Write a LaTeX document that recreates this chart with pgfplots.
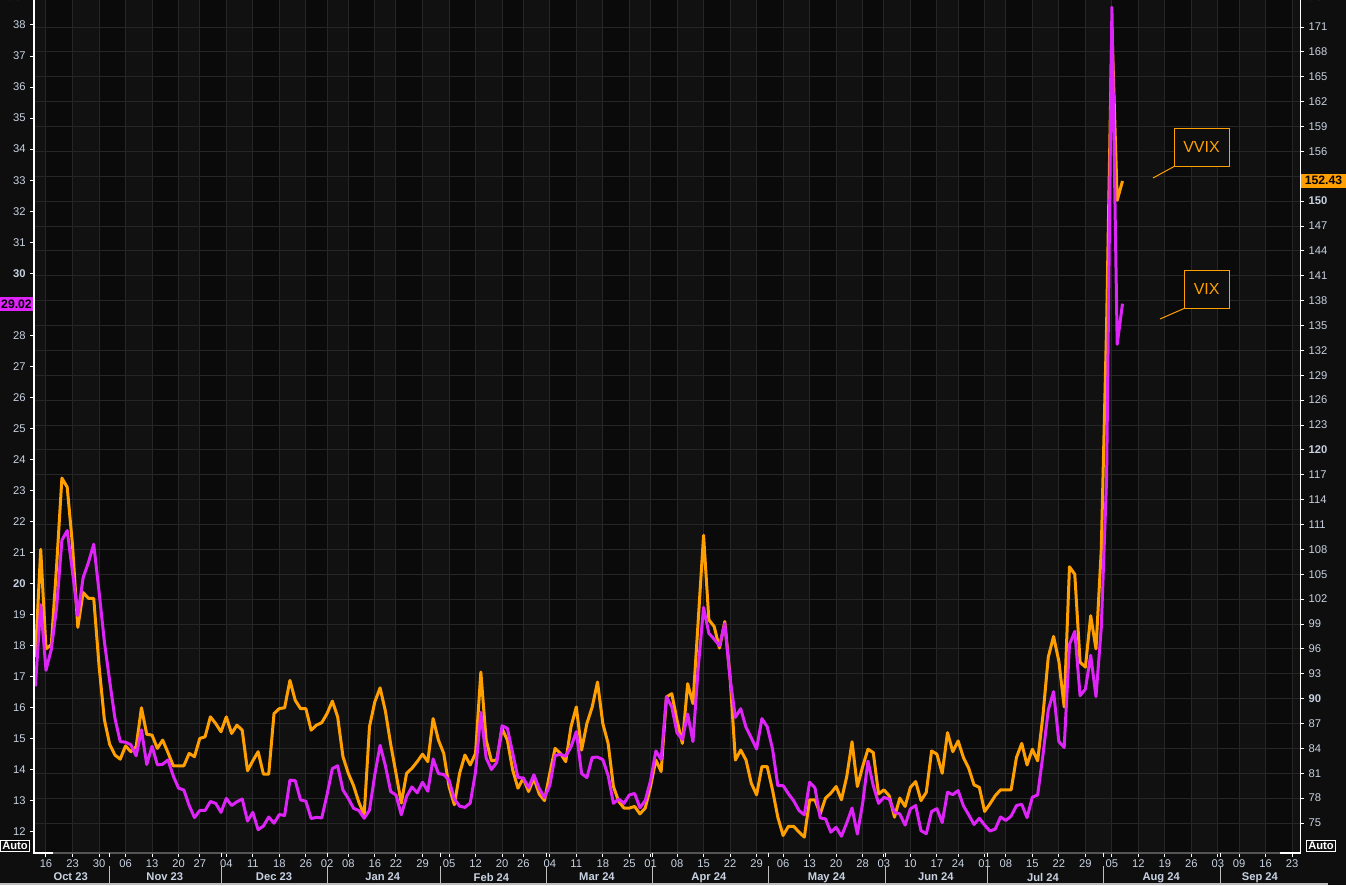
\documentclass[border=0pt]{standalone}
\usepackage{fontspec}
\setmainfont{Liberation Sans}
\usepackage{pgfplots}
\usepackage{pgfplotstable}
\pgfplotsset{compat=1.18}

\definecolor{bgout}{RGB}{14,14,14}
\definecolor{bgin}{RGB}{10,10,10}
\definecolor{bandc}{RGB}{17,17,17}
\definecolor{gridc}{RGB}{38,38,38}
\definecolor{ticklab}{RGB}{200,210,226}
\definecolor{vixc}{RGB}{222,36,248}
\definecolor{vvixc}{RGB}{255,160,0}
\definecolor{baseln}{RGB}{85,85,85}
\definecolor{sepc}{RGB}{190,190,190}
\definecolor{stripc}{RGB}{190,190,190}

\newcommand{\tf}{\fontsize{5.6pt}{6pt}\selectfont}

% trading-day index (0 = 16 Oct 2023), VIX close, VVIX close
\pgfplotstableread{
i vix vvix
-2 16.69 95.0
-1 19.32 108.0
0 17.21 96.0
1 17.88 96.5
2 19.22 106.0
3 21.40 116.6
4 21.71 115.5
5 20.37 108.5
6 18.97 98.6
7 20.19 102.8
8 20.68 102.1
9 21.27 102.1
10 19.75 94.0
11 18.14 87.5
12 16.87 84.5
13 15.66 83.2
14 14.91 82.7
15 14.89 84.3
16 14.81 83.6
17 14.45 84.2
18 15.29 88.9
19 14.17 85.7
20 14.76 85.6
21 14.16 84.0
22 14.18 85.0
23 14.32 83.5
24 13.80 81.9
25 13.41 81.9
26 13.35 81.9
27 12.85 83.4
28 12.46 83.0
29 12.69 85.2
30 12.69 85.4
31 12.98 87.8
32 12.92 87.0
33 12.63 86.0
34 13.08 87.8
35 12.85 85.8
36 12.97 86.8
37 13.06 86.2
38 12.35 81.3
39 12.63 82.5
40 12.07 83.6
41 12.19 80.9
42 12.48 80.9
43 12.28 88.2
44 12.56 88.8
45 12.53 88.9
46 13.67 92.2
47 13.65 89.8
48 13.03 88.8
49 12.99 88.8
50 12.43 86.2
51 12.47 86.8
52 12.45 87.1
53 13.20 88.2
54 14.04 89.7
55 14.13 87.8
56 13.35 83.0
57 13.08 81.0
58 12.76 79.5
59 12.69 77.5
60 12.44 76.0
61 12.70 86.6
62 13.84 89.6
63 14.79 91.3
64 14.13 88.5
65 13.30 84.5
66 13.19 81.0
67 12.55 77.4
68 13.14 81.0
69 13.45 81.6
70 13.26 82.4
71 13.60 83.3
72 13.31 82.4
73 14.35 87.6
74 13.88 85.0
75 13.85 83.4
76 13.67 79.4
77 13.06 77.2
78 12.83 81.0
79 12.79 83.2
80 12.93 82.0
81 13.93 83.4
82 15.85 93.2
83 14.38 85.0
84 14.01 82.5
85 14.24 82.6
86 15.42 86.4
87 15.34 85.0
88 14.54 81.4
89 13.75 79.2
90 13.74 80.4
91 13.43 78.8
92 13.84 80.4
93 13.40 78.5
94 13.11 77.7
95 13.49 81.0
96 14.46 84.0
97 14.50 83.4
98 14.44 82.4
99 14.74 86.6
100 15.23 89.0
101 13.88 83.8
102 13.75 87.0
103 14.40 89.0
104 14.41 92.0
105 14.33 87.0
106 13.82 84.6
107 12.92 79.4
108 13.06 77.6
109 12.92 76.8
110 13.19 76.8
111 13.24 77.0
112 12.78 76.1
113 13.01 76.8
114 13.65 79.4
115 14.61 82.6
116 14.33 81.2
117 16.35 90.2
118 16.03 90.6
119 15.19 87.4
120 14.98 84.6
121 15.80 91.8
122 14.91 89.4
123 17.31 99.5
124 19.23 109.7
125 18.40 99.5
126 18.21 98.7
127 18.00 96.1
128 18.71 99.3
129 16.94 92.6
130 15.69 82.6
131 15.97 83.8
132 15.37 82.6
133 15.03 79.8
134 14.67 78.4
135 15.65 81.8
136 15.39 81.8
137 14.68 79.0
138 13.49 75.7
139 13.49 73.5
140 13.23 74.6
141 13.00 74.6
142 12.69 73.9
143 12.55 73.3
144 13.60 77.8
145 13.42 77.8
146 12.45 76.1
147 12.42 78.0
148 11.99 78.6
149 12.15 79.4
150 11.86 77.8
151 12.29 80.6
152 12.77 84.8
153 11.93 79.4
154 12.92 81.8
155 14.28 83.9
156 13.49 83.5
157 12.92 78.5
158 13.11 79.0
159 13.06 78.3
160 12.63 75.7
161 12.58 78.0
162 12.22 77.0
163 12.74 79.3
164 12.85 80.0
165 12.04 77.7
166 11.94 78.7
167 12.66 83.7
168 12.75 83.3
169 12.30 81.0
170 13.28 85.9
171 13.20 83.6
172 13.33 84.9
173 12.84 82.9
174 12.55 81.6
175 12.24 79.6
176 12.44 79.3
177 12.22 76.4
178 12.03 77.3
179 12.09 78.3
180 12.48 79.0
181 12.37 79.0
182 12.51 79.0
183 12.85 82.9
184 12.89 84.6
185 12.46 82.0
186 13.12 83.9
187 13.19 82.5
188 14.48 88.0
189 15.93 95.0
190 16.52 97.5
191 14.91 94.5
192 14.72 89.0
193 18.04 105.9
194 18.46 105.0
195 16.39 94.4
196 16.60 93.8
197 17.69 100.0
198 16.36 96.0
199 18.59 108.0
200 23.39 135.0
201 38.57 171.0
202 27.71 150.1
203 29.02 152.43
}\data

\begin{document}
\begin{tikzpicture}
\useasboundingbox (0,0) rectangle (673pt,-442.5pt);
\fill[bgout] (0,0) rectangle (673pt,-442.5pt);
\fill[bgin] (17pt,0) rectangle (650pt,-426.5pt);
% alternating week bands
\foreach \a/\b in {-2.263/0,5/10,15/20,25/29,34/39,44/49,53/57,62/66,71/76,81/86,90/95,100/105,110/114,119/124,129/134,139/144,149/154,158/163,168/172,177/181,186/191,196/201,206/211,216/221,225/230,235/236.47}
  \fill[bandc] ({17pt+(\a+2.263)*2.6515pt},0) rectangle ({17pt+(\b+2.263)*2.6515pt},-426.5pt);

% right scale: VVIX, carries the grid and the date axis
\begin{axis}[
  at={(17pt,-426.5pt)}, anchor=south west,
  scale only axis, width=633pt, height=426.5pt,
  xmin=-2.263, xmax=236.47,
  ymin=71.382, ymax=174.256,
  axis line style={draw=none},
  xtick pos=bottom, ytick pos=right, yticklabel pos=right,
  tick align=outside, major tick length=2pt,
  tick style={white, line width=0.5pt},
  tick label style={font=\tf, text=ticklab},
  xticklabel style={yshift=2.3pt},
  yticklabel style={xshift=-1.2pt},
  xtick={0,5,10,15,20,25,29,34,39,44,49,53,57,62,66,71,76,81,86,90,95,100,105,110,114,119,124,129,134,139,144,149,154,158,163,168,172,177,181,186,191,196,201,206,211,216,221,225,230,235},
  xticklabels={16,23,30,06,13,20,27,04,11,18,26,02,08,16,22,29,05,12,20,26,04,11,18,25,01,08,15,22,29,06,13,20,28,03,10,17,24,01,08,15,22,29,05,12,19,26,03,09,16,23},
  extra x ticks={4.65,22.4,43,63.5,84,103.9,125,147.2,167.8,188,210.3,228.9},
  extra x tick labels={Oct 23,Nov 23,Dec 23,Jan 24,Feb 24,Mar 24,Apr 24,May 24,Jun 24,Jul 24,Aug 24,Sep 24},
  extra x tick style={grid=none, major tick length=0pt,
    tick label style={yshift=-8.8pt, font=\tf\bfseries}},
  ytick={75,78,...,171},
  yticklabels={75,78,81,84,87,\textbf{90},93,96,99,102,105,108,111,114,117,\textbf{120},123,126,129,132,135,138,141,144,147,\textbf{150},,156,159,162,165,168,171},
  xmajorgrids, ymajorgrids,
  major grid style={gridc, line width=0.5pt},
]
\addplot[vvixc, line width=1.5pt, line join=round] table[x=i, y=vvix] {\data};
\end{axis}

% left scale: VIX
\begin{axis}[
  at={(17pt,-426.5pt)}, anchor=south west,
  scale only axis, width=633pt, height=426.5pt,
  xmin=-2.263, xmax=236.47,
  ymin=11.32, ymax=38.805,
  axis line style={draw=none},
  xtick=\empty, ytick pos=left,
  tick align=outside, major tick length=2pt,
  tick style={white, line width=0.5pt},
  tick label style={font=\tf, text=ticklab},
  yticklabel style={xshift=1.3pt},
  ytick={12,13,...,38},
  yticklabels={12,13,14,15,16,17,18,19,\textbf{20},21,22,23,24,25,26,27,28,,\textbf{30},31,32,33,34,35,36,37,38},
]
\addplot[vixc, line width=1.5pt, line join=round] table[x=i, y=vix] {\data};
\end{axis}

\begin{scope}[x=0.5pt, y=-0.5pt]
  % axis lines
  \draw[baseln, line width=0.6pt] (34,853) -- (1300,853);
  \draw[white, line width=0.6pt] (34,0) -- (34,853) -- (53,853);
  \draw[white, line width=0.6pt] (1300.5,0) -- (1300.5,853) -- (1280,853);
  % month separators
  \foreach \s in {109,221,327,440,546,652,768,885,987,1103,1220} {
    \draw[sepc, line width=0.5pt] (\s,866) -- (\s,883);
    \draw[white, line width=0.5pt] (\s,853) -- (\s,857);
  }
  \fill[stripc] (0,882.5) rectangle (1328,885);
  % currency and scale captions
  \node[text=ticklab, font=\tf\bfseries] at (18,-3) {USD};
  \node[text=ticklab, font=\tf\bfseries] at (1319,-3) {USD};
  \node[draw=white, line width=0.5pt, inner sep=0.8pt, text=white, font=\tf\bfseries] at (15,845.5) {Auto};
  \node[draw=white, line width=0.5pt, inner sep=0.8pt, text=white, font=\tf\bfseries] at (1321,846) {Auto};
  % last values
  \fill[vixc] (0,297) rectangle (33,311);
  \node[font=\fontsize{6.1pt}{6.5pt}\selectfont\bfseries, text=black] at (16.5,304) {29.02};
  \fill[vvixc] (1301,173.5) rectangle (1346,187.5);
  \node[font=\fontsize{6.1pt}{6.5pt}\selectfont\bfseries, text=black] at (1323.5,180.5) {152.43};
  % callouts
  \draw[vvixc, line width=0.5pt] (1153,178) -- (1174,166.5);
  \draw[vvixc, line width=0.5pt, fill=bgout] (1174,128) rectangle (1229,166);
  \node[text=vvixc, font=\fontsize{8pt}{9pt}\selectfont] at (1201.5,147) {VVIX};
  \draw[vvixc, line width=0.5pt] (1160,319) -- (1184,308.5);
  \draw[vvixc, line width=0.5pt, fill=bgout] (1184,270) rectangle (1229.5,308.5);
  \node[text=vvixc, font=\fontsize{8pt}{9pt}\selectfont] at (1206.7,289) {VIX};
\end{scope}
\end{tikzpicture}
\end{document}
